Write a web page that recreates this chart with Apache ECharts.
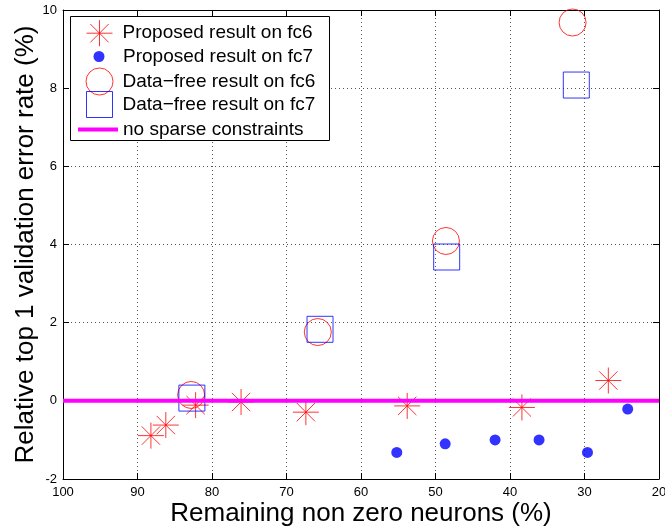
<!DOCTYPE html>
<html>
<head>
<meta charset="utf-8">
<script src="https://cdn.jsdelivr.net/npm/echarts@6/dist/echarts.min.js"></script>
<style>
  html, body { margin: 0; padding: 0; background: #fff; }
  #chart { width: 665px; height: 529px; }
</style>
</head>
<body>
<div id="chart"></div>
<script>
// values
var propFc6X = [88.2, 86.2, 82.2, 76.1, 67.4, 53.8, 38.4, 26.8];
var propFc6Y = [-0.89, -0.62, -0.11, -0.03, -0.29, -0.13, -0.17, 0.52];
var propFc7X = [55.2, 48.7, 42.0, 36.1, 29.6, 24.2];
var propFc7Y = [-1.32, -1.10, -1.00, -1.00, -1.32, -0.21];
var freeFc6X = [82.8, 65.8, 48.6, 31.6];
var freeFc6Y = [0.15, 1.76, 4.09, 9.68];
var freeFc7X = [82.7, 65.5, 48.5, 31.1];
var freeFc7Y = [0.07, 1.83, 3.68, 8.08];
var baseX = [100, 20];
var baseY = [0, 0];

var names = ['Proposed result on fc6', 'Proposed result on fc7',
             'Data\u2212free result on fc6', 'Data\u2212free result on fc7',
             'no sparse constraints'];

var font = 'Liberation Sans, Arial, Helvetica, sans-serif';
var star = 'path://M0,-1L0,1M-1,0L1,0M-0.707,-0.707L0.707,0.707M-0.707,0.707L0.707,-0.707';

var pairs = function (xs, ys) {
    var out = [];
    for (var i = 0; i < xs.length; i++) out.push([xs[i], ys[i]]);
    return out;
};

// one legend per entry so each icon keeps its own size
var legendItem = function (name, left, top, w, h, pad, icon) {
    return {
        data: [icon ? { name: name, icon: icon } : name],
        left: left, top: top,
        orient: 'vertical',
        padding: 0,
        itemWidth: w, itemHeight: h,
        selectedMode: false,
        itemStyle: { borderWidth: 1 },
        lineStyle: { width: 4 },
        textStyle: { fontSize: 19, color: '#000', fontFamily: font, padding: [0, 0, 0, pad] }
    };
};

var axisX = function (pos) {
    return {
        type: 'value', min: 20, max: 100, interval: 10, inverse: true, position: pos,
        axisLine: { show: true, onZero: false, lineStyle: { color: '#000', width: 1 } },
        axisTick: { show: true, inside: true, length: 6, lineStyle: { color: '#000' } },
        axisLabel: { show: pos === 'bottom', color: '#000', fontSize: 13, fontFamily: font, margin: 7 },
        splitLine: { show: pos === 'bottom', lineStyle: { color: '#555', type: [1, 3], width: 1 } }
    };
};
var axisY = function (pos) {
    return {
        type: 'value', min: -2, max: 10, interval: 2, position: pos,
        axisLine: { show: true, onZero: false, lineStyle: { color: '#000', width: 1 } },
        axisTick: { show: true, inside: true, length: 6, lineStyle: { color: '#000' } },
        axisLabel: { show: pos === 'left', color: '#000', fontSize: 13, fontFamily: font, margin: 6 },
        splitLine: { show: pos === 'left', lineStyle: { color: '#555', type: [1, 3], width: 1 } }
    };
};

var xMain = axisX('bottom');
xMain.name = 'Remaining non zero neurons (%)';
xMain.nameLocation = 'middle';
xMain.nameGap = 22;
xMain.nameMoveOverlap = false;
xMain.nameTextStyle = { fontSize: 26, color: '#000', fontFamily: font };
var yMain = axisY('left');
yMain.name = 'Relative top 1 validation error rate (%)';
yMain.nameLocation = 'middle';
yMain.nameGap = 24;
yMain.nameMoveOverlap = false;
yMain.nameTextStyle = { fontSize: 26, color: '#000', fontFamily: font };

var myChart = echarts.init(document.getElementById('chart'), null, { renderer: 'canvas' });
myChart.setOption({
    animation: false,
    backgroundColor: '#fff',
    grid: { left: 63, right: 6, top: 10, bottom: 50, containLabel: false, outerBoundsMode: 'none' },
    xAxis: [xMain, axisX('top')],
    yAxis: [yMain, axisY('right')],
    graphic: [{
        type: 'rect', z: 3,
        shape: { x: 70.5, y: 16.5, width: 259, height: 124 },
        style: { fill: '#fff', stroke: '#000', lineWidth: 1 }
    }],
    legend: [
        legendItem(names[0], 84, 17.7, 26, 26, 5),
        legendItem(names[1], 93.5, 47, 11, 11, 13.5),
        legendItem(names[2], 83.5, 65.5, 27, 27, 4.5),
        legendItem(names[3], 84, 89, 26, 26, 5),
        legendItem(names[4], 78, 120, 40, 4, 0, 'rect')
    ],
    series: [{
        name: names[0], type: 'scatter', clip: false,
        symbol: star, symbolSize: 26,
        itemStyle: { color: 'none', borderColor: '#ff0000', borderWidth: 1 },
        data: pairs(propFc6X, propFc6Y)
    }, {
        name: names[1], type: 'scatter', clip: false,
        symbol: 'circle', symbolSize: 11,
        itemStyle: { color: '#0000ff' },
        data: pairs(propFc7X, propFc7Y)
    }, {
        name: names[2], type: 'scatter', clip: false,
        symbol: 'circle', symbolSize: 27,
        itemStyle: { color: 'none', borderColor: '#ff0000', borderWidth: 1 },
        data: pairs(freeFc6X, freeFc6Y)
    }, {
        name: names[3], type: 'scatter', clip: false,
        symbol: 'rect', symbolSize: 26,
        itemStyle: { color: 'none', borderColor: '#0000ff', borderWidth: 1 },
        data: pairs(freeFc7X, freeFc7Y)
    }, {
        name: names[4], type: 'line', z: 3,
        symbol: 'none', showSymbol: false,
        lineStyle: { color: '#ff00ff', width: 4 },
        itemStyle: { color: '#ff00ff' },
        data: pairs(baseX, baseY)
    }]
});
</script>
</body>
</html>
